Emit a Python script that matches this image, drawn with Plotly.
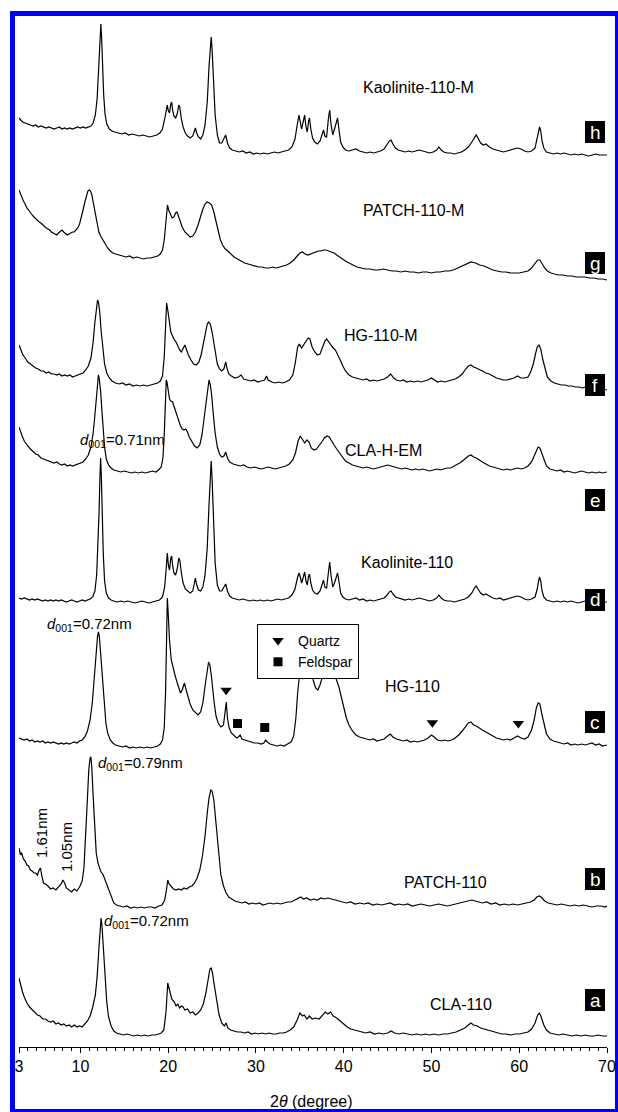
import numpy as np
import plotly.graph_objects as go

# ---------------- XRD patterns: (2theta in degree, intensity in a.u.) ----------------
cla110 = [(3.0, 59), (3.2, 51), (3.4, 45), (3.6, 40), (3.9, 34), (4.2, 30), (4.5, 27), (4.8, 25), (5.1, 22), (5.4, 21),
          (5.7, 18), (6.0, 18), (6.3, 16), (6.6, 15), (6.9, 16), (7.2, 13), (7.5, 14), (7.8, 12), (8.1, 13), (8.4, 11),
          (8.7, 12), (9.0, 10), (9.3, 12), (9.6, 10), (9.9, 11), (10.2, 10), (10.5, 13), (10.8, 16), (11.1, 21), (11.4, 30),
          (11.7, 42), (11.9, 60), (12.1, 88), (12.25, 110), (12.35, 119), (12.45, 112), (12.6, 90), (12.8, 58), (13.0, 35),
          (13.2, 20), (13.5, 11), (13.8, 6), (14.1, 4), (14.5, 3), (14.9, 2), (15.3, 3), (15.7, 2), (16.1, 1), (16.5, 2),
          (16.9, 1), (17.3, 2), (17.7, 1), (18.1, 2), (18.5, 2), (18.9, 3), (19.2, 4), (19.5, 7), (19.75, 25), (19.95, 54),
          (20.15, 46), (20.4, 38), (20.7, 35), (20.9, 31), (21.1, 33), (21.3, 29), (21.5, 31), (21.7, 30), (21.9, 27),
          (22.2, 28), (22.5, 24), (22.8, 25), (23.1, 22), (23.4, 24), (23.7, 27), (24.0, 33), (24.3, 44), (24.55, 60),
          (24.75, 68), (24.9, 69), (25.05, 64), (25.25, 52), (25.5, 36), (25.8, 22), (26.1, 14), (26.4, 11), (26.6, 14),
          (26.8, 9), (27.1, 7), (27.5, 6), (27.9, 5), (28.3, 5), (28.7, 4), (29.1, 5), (29.5, 3), (29.9, 4), (30.3, 3),
          (30.7, 4), (31.1, 3), (31.5, 4), (31.9, 3), (32.3, 3), (32.7, 4), (33.1, 4), (33.5, 5), (33.9, 7), (34.3, 10),
          (34.7, 17), (35.0, 24), (35.3, 21), (35.5, 22), (35.8, 18), (36.1, 21), (36.4, 18), (36.8, 19), (37.2, 18),
          (37.6, 22), (37.9, 25), (38.2, 23), (38.5, 25), (38.8, 21), (39.2, 19), (39.6, 16), (40.0, 13), (40.4, 10),
          (40.8, 8), (41.2, 7), (41.6, 6), (42.0, 5), (42.5, 4), (43.0, 5), (43.5, 3), (44.0, 4), (44.5, 3), (45.0, 4),
          (45.4, 6), (45.8, 4), (46.3, 3), (46.8, 4), (47.3, 3), (47.8, 2), (48.3, 3), (48.8, 2), (49.3, 3), (49.8, 2),
          (50.3, 3), (50.8, 2), (51.3, 3), (51.8, 3), (52.3, 4), (52.8, 5), (53.3, 7), (53.8, 9), (54.2, 12), (54.5, 14),
          (54.8, 12), (55.2, 11), (55.6, 9), (56.0, 8), (56.5, 6), (57.0, 5), (57.5, 4), (58.0, 3), (58.5, 3), (59.0, 2),
          (59.5, 3), (60.0, 3), (60.5, 4), (61.0, 5), (61.4, 8), (61.8, 14), (62.1, 22), (62.3, 24), (62.5, 20), (62.8, 12),
          (63.1, 7), (63.5, 4), (64.0, 3), (64.5, 2), (65.0, 3), (65.5, 2), (66.0, 1), (66.5, 2), (67.0, 1), (67.5, 2),
          (68.0, 1), (68.5, 1), (69.0, 2), (69.5, 1), (70.0, 1)]

patch110 = [(3.0, 60), (3.15, 54), (3.3, 55), (3.5, 49), (3.7, 47), (3.9, 43), (4.1, 42), (4.3, 38), (4.5, 37), (4.7, 35),
            (4.9, 35), (5.1, 33), (5.3, 38), (5.45, 40), (5.6, 32), (5.8, 25), (6.0, 24), (6.3, 22), (6.6, 19), (6.9, 20),
            (7.2, 18), (7.5, 21), (7.8, 24), (8.0, 28), (8.2, 25), (8.4, 20), (8.7, 18), (9.0, 16), (9.3, 19), (9.6, 17),
            (9.9, 21), (10.2, 27), (10.4, 40), (10.6, 70), (10.8, 110), (10.95, 138), (11.1, 150), (11.2, 151), (11.3, 140),
            (11.45, 112), (11.6, 80), (11.8, 55), (12.0, 45), (12.3, 37), (12.6, 33), (12.9, 26), (13.2, 19), (13.5, 10),
            (13.8, 5), (14.1, 3), (14.5, 2), (14.9, 1), (15.3, 2), (15.7, 0), (16.1, 1), (16.5, 0), (16.9, 1), (17.3, 0),
            (17.7, 1), (18.1, 1), (18.5, 0), (18.9, 2), (19.3, 3), (19.6, 8), (19.8, 18), (19.95, 28), (20.1, 24), (20.3, 22),
            (20.6, 19), (20.9, 18), (21.2, 19), (21.5, 18), (21.8, 20), (22.1, 19), (22.4, 21), (22.7, 22), (23.0, 25),
            (23.3, 30), (23.6, 38), (23.9, 52), (24.2, 72), (24.45, 95), (24.65, 110), (24.85, 118), (25.0, 117), (25.2, 108),
            (25.4, 90), (25.6, 68), (25.8, 48), (26.0, 33), (26.3, 22), (26.6, 15), (26.9, 11), (27.2, 9), (27.6, 7), (28.0, 6),
            (28.4, 5), (28.8, 6), (29.2, 4), (29.6, 5), (30.0, 4), (30.4, 5), (30.8, 3), (31.2, 4), (31.6, 5), (32.0, 4),
            (32.4, 5), (32.8, 4), (33.2, 5), (33.6, 6), (34.0, 6), (34.4, 8), (34.8, 10), (35.1, 11), (35.4, 9), (35.8, 10),
            (36.2, 8), (36.6, 9), (37.0, 8), (37.4, 10), (37.8, 9), (38.2, 10), (38.6, 9), (39.0, 8), (39.4, 7), (39.8, 6),
            (40.3, 5), (40.8, 6), (41.3, 4), (41.8, 5), (42.3, 4), (42.8, 5), (43.3, 3), (43.8, 4), (44.3, 3), (44.8, 4),
            (45.3, 5), (45.8, 3), (46.3, 4), (46.8, 3), (47.3, 4), (47.8, 2), (48.3, 3), (48.8, 4), (49.3, 3), (49.8, 2),
            (50.3, 3), (50.8, 4), (51.3, 3), (51.8, 2), (52.3, 3), (52.8, 4), (53.3, 5), (53.8, 6), (54.2, 7), (54.6, 8),
            (55.0, 7), (55.4, 6), (55.8, 5), (56.3, 6), (56.8, 4), (57.3, 5), (57.8, 3), (58.3, 4), (58.8, 3), (59.3, 4),
            (59.8, 3), (60.3, 4), (60.8, 5), (61.3, 6), (61.7, 8), (62.0, 11), (62.3, 12), (62.6, 10), (62.9, 7), (63.3, 5),
            (63.8, 4), (64.3, 3), (64.8, 4), (65.3, 3), (65.8, 2), (66.3, 3), (66.8, 2), (67.3, 3), (67.8, 2), (68.3, 1),
            (68.8, 2), (69.3, 2), (69.8, 1), (70.0, 2)]

hg110 = [(3.0, 10), (3.3, 9), (3.6, 8), (3.9, 9), (4.2, 7), (4.5, 8), (4.8, 6), (5.1, 7), (5.4, 6), (5.7, 7), (6.0, 5),
         (6.3, 6), (6.6, 5), (6.9, 6), (7.2, 5), (7.5, 4), (7.8, 5), (8.1, 4), (8.4, 5), (8.7, 4), (9.0, 5), (9.3, 6),
         (9.6, 5), (9.9, 7), (10.2, 8), (10.5, 11), (10.8, 17), (11.1, 28), (11.35, 45), (11.6, 73), (11.8, 98),
         (11.95, 112), (12.05, 116), (12.15, 112), (12.3, 95), (12.5, 68), (12.7, 42), (12.9, 25), (13.1, 15), (13.4, 8),
         (13.7, 5), (14.0, 3), (14.4, 2), (14.8, 1), (15.2, 2), (15.6, 0), (16.0, 1), (16.4, 0), (16.8, 1), (17.2, 0),
         (17.6, 1), (18.0, 0), (18.4, 1), (18.8, 2), (19.1, 4), (19.35, 8), (19.55, 20), (19.7, 55), (19.82, 110),
         (19.9, 150), (20.0, 135), (20.15, 108), (20.35, 88), (20.6, 78), (20.8, 72), (21.0, 66), (21.2, 60), (21.4, 55),
         (21.6, 58), (21.85, 65), (22.05, 58), (22.3, 50), (22.5, 44), (22.8, 38), (23.1, 35), (23.4, 33), (23.7, 36),
         (23.95, 45), (24.2, 62), (24.45, 80), (24.6, 86), (24.75, 83), (24.95, 70), (25.2, 48), (25.45, 32), (25.7, 25),
         (26.0, 21), (26.3, 23), (26.5, 38), (26.62, 46), (26.75, 30), (26.95, 20), (27.2, 15), (27.5, 12), (27.8, 10),
         (28.0, 11), (28.2, 13), (28.4, 9), (28.7, 8), (29.0, 7), (29.4, 6), (29.8, 5), (30.2, 5), (30.6, 4), (30.9, 5),
         (31.1, 8), (31.3, 6), (31.6, 4), (32.0, 3), (32.4, 2), (32.8, 3), (33.2, 2), (33.6, 4), (34.0, 6), (34.3, 12),
         (34.55, 30), (34.75, 55), (34.95, 72), (35.15, 74), (35.35, 69), (35.55, 73), (35.75, 78), (35.95, 84), (36.1, 86),
         (36.3, 78), (36.55, 67), (36.8, 60), (37.05, 58), (37.3, 63), (37.55, 70), (37.8, 79), (38.0, 84), (38.2, 82),
         (38.45, 76), (38.7, 72), (38.95, 74), (39.2, 68), (39.45, 61), (39.7, 52), (40.0, 40), (40.3, 30), (40.6, 23),
         (41.0, 17), (41.4, 13), (41.8, 11), (42.2, 10), (42.6, 9), (43.0, 8), (43.4, 9), (43.8, 7), (44.2, 8), (44.6, 9),
         (45.0, 12), (45.3, 14), (45.6, 11), (46.0, 9), (46.4, 8), (46.8, 7), (47.2, 8), (47.6, 6), (48.0, 7), (48.4, 6),
         (48.8, 7), (49.2, 8), (49.6, 10), (50.0, 13), (50.3, 11), (50.7, 8), (51.1, 7), (51.5, 8), (51.9, 7), (52.3, 8),
         (52.7, 10), (53.1, 13), (53.5, 17), (53.9, 22), (54.2, 25), (54.5, 26), (54.8, 23), (55.1, 22), (55.4, 20),
         (55.8, 18), (56.2, 16), (56.6, 14), (57.0, 12), (57.4, 10), (57.8, 9), (58.2, 8), (58.6, 9), (59.0, 8), (59.4, 10),
         (59.8, 12), (60.2, 10), (60.6, 9), (61.0, 11), (61.4, 18), (61.7, 28), (61.95, 40), (62.15, 45), (62.35, 44),
         (62.6, 33), (62.85, 22), (63.1, 14), (63.5, 9), (63.9, 7), (64.3, 6), (64.7, 5), (65.1, 4), (65.5, 5), (65.9, 3),
         (66.3, 4), (66.7, 3), (67.1, 4), (67.5, 3), (67.9, 4), (68.3, 5), (68.7, 3), (69.1, 4), (69.5, 2), (70.0, 3)]

kao110 = [(3.0, 5), (3.3, 4), (3.6, 5), (3.9, 4), (4.2, 3), (4.5, 4), (4.8, 3), (5.1, 4), (5.4, 3), (5.7, 2), (6.0, 3),
          (6.3, 2), (6.6, 3), (6.9, 2), (7.2, 3), (7.5, 2), (7.8, 3), (8.1, 2), (8.4, 1), (8.7, 2), (9.0, 3), (9.3, 2),
          (9.6, 1), (9.9, 2), (10.2, 3), (10.5, 2), (10.8, 3), (11.1, 4), (11.4, 6), (11.65, 12), (11.85, 28), (12.0, 55),
          (12.12, 90), (12.22, 125), (12.3, 145), (12.38, 128), (12.48, 90), (12.6, 50), (12.75, 22), (12.95, 10), (13.2, 5),
          (13.5, 3), (13.8, 2), (14.2, 1), (14.6, 2), (15.0, 1), (15.4, 2), (15.8, 1), (16.2, 0), (16.6, 1), (17.0, 2),
          (17.4, 1), (17.8, 0), (18.2, 1), (18.6, 2), (19.0, 3), (19.35, 6), (19.6, 16), (19.78, 35), (19.9, 50), (20.02, 38),
          (20.15, 33), (20.3, 45), (20.4, 47), (20.5, 38), (20.65, 30), (20.85, 28), (21.05, 35), (21.2, 45), (21.32, 43),
          (21.5, 30), (21.7, 20), (21.95, 14), (22.2, 12), (22.5, 10), (22.8, 12), (22.95, 18), (23.1, 25), (23.25, 18),
          (23.45, 13), (23.7, 12), (23.95, 16), (24.2, 28), (24.45, 55), (24.65, 98), (24.8, 132), (24.9, 142), (25.0, 125),
          (25.15, 85), (25.35, 40), (25.6, 18), (25.85, 12), (26.1, 12), (26.35, 16), (26.55, 19), (26.75, 12), (27.0, 7),
          (27.3, 5), (27.7, 4), (28.1, 3), (28.5, 4), (28.9, 3), (29.3, 2), (29.7, 3), (30.1, 2), (30.5, 3), (30.9, 2),
          (31.3, 3), (31.7, 2), (32.1, 3), (32.5, 4), (32.9, 3), (33.3, 4), (33.7, 5), (34.1, 8), (34.45, 14), (34.7, 24),
          (34.9, 30), (35.05, 26), (35.2, 20), (35.4, 26), (35.55, 31), (35.7, 22), (35.85, 18), (36.0, 27), (36.1, 29),
          (36.25, 20), (36.45, 13), (36.7, 10), (37.0, 9), (37.3, 12), (37.55, 18), (37.7, 23), (37.85, 16), (38.05, 15),
          (38.25, 30), (38.4, 41), (38.55, 28), (38.75, 16), (38.95, 20), (39.15, 27), (39.3, 30), (39.45, 22), (39.65, 10),
          (39.9, 6), (40.2, 4), (40.6, 3), (41.0, 4), (41.4, 5), (41.8, 3), (42.2, 4), (42.6, 2), (43.0, 3), (43.4, 2),
          (43.8, 3), (44.2, 4), (44.6, 5), (44.95, 8), (45.2, 11), (45.4, 12), (45.6, 9), (45.9, 6), (46.2, 5), (46.6, 4),
          (47.0, 3), (47.4, 4), (47.8, 3), (48.2, 4), (48.6, 5), (49.0, 4), (49.4, 3), (49.8, 2), (50.2, 3), (50.6, 5),
          (50.85, 8), (51.1, 5), (51.4, 3), (51.8, 2), (52.2, 2), (52.6, 1), (53.0, 2), (53.4, 3), (53.8, 4), (54.2, 6),
          (54.6, 10), (54.9, 15), (55.1, 17), (55.3, 14), (55.6, 10), (55.9, 8), (56.2, 9), (56.6, 7), (57.0, 5), (57.4, 4),
          (57.8, 5), (58.2, 3), (58.6, 4), (59.0, 5), (59.4, 6), (59.8, 7), (60.2, 6), (60.6, 4), (61.0, 3), (61.4, 4),
          (61.8, 6), (62.05, 14), (62.2, 22), (62.32, 26), (62.45, 22), (62.6, 12), (62.8, 6), (63.1, 3), (63.5, 2),
          (63.9, 1), (64.3, 2), (64.7, 1), (65.1, 2), (65.5, 1), (65.9, 2), (66.3, 1), (66.7, 0), (67.1, 1), (67.5, 2),
          (67.9, 1), (68.3, 0), (68.7, 1), (69.1, 2), (69.5, 1), (70.0, 1)]

clahem = [(3.0, 46), (3.2, 40), (3.4, 36), (3.6, 32), (3.8, 29), (4.0, 27), (4.3, 24), (4.6, 21), (4.9, 19), (5.2, 18),
          (5.5, 15), (5.8, 14), (6.1, 13), (6.4, 12), (6.7, 11), (7.0, 10), (7.3, 11), (7.6, 9), (7.9, 8), (8.2, 9), (8.5, 7),
          (8.8, 8), (9.1, 7), (9.4, 8), (9.7, 9), (10.0, 10), (10.3, 11), (10.6, 14), (10.9, 18), (11.2, 26), (11.45, 40),
          (11.65, 58), (11.82, 78), (11.95, 92), (12.05, 98), (12.15, 94), (12.3, 82), (12.45, 62), (12.6, 42), (12.75, 26),
          (12.95, 14), (13.2, 8), (13.5, 5), (13.8, 3), (14.2, 2), (14.6, 1), (15.0, 2), (15.4, 1), (15.8, 0), (16.2, 1),
          (16.6, 0), (17.0, 1), (17.4, 0), (17.8, 1), (18.2, 2), (18.6, 1), (18.9, 3), (19.2, 6), (19.4, 15), (19.55, 38),
          (19.68, 70), (19.78, 93), (19.88, 90), (20.0, 80), (20.15, 74), (20.3, 72), (20.5, 71), (20.65, 67), (20.8, 63),
          (21.0, 57), (21.2, 50), (21.4, 47), (21.6, 44), (21.8, 43), (22.0, 44), (22.2, 41), (22.4, 36), (22.7, 31),
          (23.0, 27), (23.3, 25), (23.6, 28), (23.85, 38), (24.1, 55), (24.3, 70), (24.5, 85), (24.65, 93), (24.8, 88),
          (24.95, 78), (25.15, 58), (25.35, 40), (25.6, 26), (25.85, 19), (26.1, 16), (26.35, 17), (26.55, 21), (26.75, 15),
          (27.0, 11), (27.4, 9), (27.8, 8), (28.2, 7), (28.6, 8), (29.0, 6), (29.4, 5), (29.8, 6), (30.2, 5), (30.6, 4),
          (31.0, 5), (31.4, 6), (31.8, 5), (32.2, 4), (32.6, 5), (33.0, 6), (33.4, 7), (33.8, 9), (34.2, 13), (34.5, 20),
          (34.8, 32), (35.05, 37), (35.3, 34), (35.55, 30), (35.8, 33), (36.05, 31), (36.3, 25), (36.6, 23), (36.9, 24),
          (37.2, 27), (37.5, 31), (37.8, 35), (38.1, 37), (38.35, 36), (38.6, 32), (38.9, 28), (39.2, 24), (39.5, 20),
          (39.8, 16), (40.2, 12), (40.6, 10), (41.0, 8), (41.4, 7), (41.8, 6), (42.2, 5), (42.6, 6), (43.0, 5), (43.4, 4),
          (43.8, 5), (44.2, 6), (44.6, 7), (45.0, 8), (45.4, 7), (45.8, 6), (46.2, 5), (46.6, 4), (47.0, 5), (47.4, 4),
          (47.8, 3), (48.2, 4), (48.6, 3), (49.0, 4), (49.4, 3), (49.8, 2), (50.2, 3), (50.6, 4), (51.0, 3), (51.4, 4),
          (51.8, 5), (52.2, 5), (52.6, 7), (53.0, 9), (53.4, 11), (53.8, 14), (54.2, 17), (54.5, 18), (54.8, 16), (55.1, 15),
          (55.4, 13), (55.8, 11), (56.2, 9), (56.6, 7), (57.0, 6), (57.4, 5), (57.8, 4), (58.2, 3), (58.6, 4), (59.0, 3),
          (59.4, 4), (59.8, 5), (60.2, 4), (60.6, 5), (61.0, 7), (61.4, 11), (61.7, 17), (61.95, 23), (62.15, 26),
          (62.35, 25), (62.6, 19), (62.85, 12), (63.1, 7), (63.5, 4), (63.9, 3), (64.3, 2), (64.7, 3), (65.1, 1), (65.5, 2),
          (65.9, 1), (66.3, 0), (66.7, 1), (67.1, 2), (67.5, 1), (67.9, 0), (68.3, 1), (68.7, 0), (69.1, 1), (69.5, 0),
          (70.0, 1)]

hg110m = [(3.0, 47), (3.2, 42), (3.4, 38), (3.7, 34), (4.0, 30), (4.3, 28), (4.6, 26), (4.9, 24), (5.2, 23), (5.5, 21),
          (5.8, 21), (6.1, 19), (6.4, 20), (6.7, 18), (7.0, 18), (7.3, 17), (7.6, 18), (7.9, 16), (8.2, 17), (8.5, 16),
          (8.8, 17), (9.1, 15), (9.4, 16), (9.7, 17), (10.0, 18), (10.3, 19), (10.6, 22), (10.9, 26), (11.2, 34),
          (11.45, 50), (11.65, 70), (11.82, 86), (11.95, 92), (12.05, 90), (12.2, 80), (12.35, 62), (12.55, 42), (12.75, 28),
          (13.0, 19), (13.3, 14), (13.6, 11), (14.0, 9), (14.4, 8), (14.8, 9), (15.2, 7), (15.6, 8), (16.0, 6), (16.4, 7),
          (16.8, 6), (17.2, 7), (17.6, 6), (18.0, 7), (18.4, 8), (18.8, 9), (19.1, 11), (19.35, 16), (19.55, 35), (19.7, 65),
          (19.82, 89), (19.95, 82), (20.1, 72), (20.3, 60), (20.5, 56), (20.7, 52), (20.9, 50), (21.1, 46), (21.3, 42),
          (21.5, 40), (21.7, 43), (21.9, 47), (22.1, 42), (22.3, 37), (22.6, 32), (22.9, 28), (23.2, 27), (23.5, 30),
          (23.75, 37), (24.0, 47), (24.25, 60), (24.45, 68), (24.6, 70), (24.8, 68), (25.0, 60), (25.2, 48), (25.4, 37),
          (25.6, 28), (25.85, 23), (26.1, 21), (26.35, 23), (26.55, 30), (26.7, 24), (26.9, 18), (27.2, 16), (27.6, 14),
          (28.0, 15), (28.3, 17), (28.6, 13), (29.0, 12), (29.4, 11), (29.8, 12), (30.2, 10), (30.6, 11), (31.0, 12),
          (31.2, 16), (31.4, 12), (31.8, 10), (32.2, 9), (32.6, 10), (33.0, 9), (33.4, 10), (33.8, 12), (34.2, 17), (34.5, 30),
          (34.75, 45), (34.95, 48), (35.2, 44), (35.45, 47), (35.7, 51), (35.95, 54), (36.15, 53), (36.4, 45), (36.7, 40),
          (37.0, 37), (37.3, 38), (37.6, 45), (37.85, 51), (38.05, 53), (38.3, 50), (38.55, 46), (38.8, 44), (39.05, 42),
          (39.3, 38), (39.6, 32), (39.9, 26), (40.2, 21), (40.6, 17), (41.0, 15), (41.4, 14), (41.8, 13), (42.2, 12),
          (42.6, 13), (43.0, 11), (43.4, 12), (43.8, 11), (44.2, 12), (44.6, 13), (45.0, 15), (45.35, 18), (45.7, 14),
          (46.0, 12), (46.4, 11), (46.8, 12), (47.2, 10), (47.6, 11), (48.0, 10), (48.4, 11), (48.8, 10), (49.2, 11),
          (49.6, 12), (50.0, 14), (50.3, 12), (50.7, 10), (51.1, 11), (51.5, 10), (51.9, 11), (52.3, 12), (52.7, 13),
          (53.1, 15), (53.5, 18), (53.9, 23), (54.2, 26), (54.5, 27), (54.8, 25), (55.1, 24), (55.4, 23), (55.8, 21),
          (56.2, 19), (56.6, 18), (57.0, 16), (57.4, 14), (57.8, 13), (58.2, 12), (58.6, 12), (59.0, 13), (59.4, 14),
          (59.8, 16), (60.2, 14), (60.6, 14), (61.0, 15), (61.3, 20), (61.6, 28), (61.85, 38), (62.05, 45), (62.25, 47),
          (62.45, 43), (62.7, 32), (62.95, 22), (63.2, 15), (63.6, 11), (64.0, 9), (64.4, 8), (64.8, 7), (65.2, 7), (65.6, 6),
          (66.0, 6), (66.4, 5), (66.8, 5), (67.2, 4), (67.6, 5), (68.0, 3), (68.4, 4), (68.8, 3), (69.2, 2), (69.6, 3),
          (70.0, 2)]

patch110m = [(3.0, 90), (3.15, 86), (3.3, 83), (3.5, 79), (3.7, 76), (3.9, 72), (4.1, 70), (4.3, 67), (4.5, 65), (4.7, 63),
             (4.9, 61), (5.1, 60), (5.3, 58), (5.5, 57), (5.7, 55), (5.9, 54), (6.1, 52), (6.3, 51), (6.5, 50), (6.7, 48),
             (6.9, 47), (7.1, 46), (7.3, 45), (7.5, 47), (7.7, 49), (7.9, 50), (8.1, 48), (8.3, 46), (8.5, 45), (8.7, 46),
             (8.9, 47), (9.1, 48), (9.3, 48), (9.5, 50), (9.7, 52), (9.9, 56), (10.1, 62), (10.3, 70), (10.5, 78), (10.7, 85),
             (10.85, 89), (11.0, 90), (11.15, 89), (11.3, 85), (11.5, 76), (11.7, 65), (11.9, 56), (12.1, 48), (12.3, 44),
             (12.5, 41), (12.8, 36), (13.1, 32), (13.4, 29), (13.7, 27), (14.0, 26), (14.4, 25), (14.8, 24), (15.2, 23),
             (15.6, 24), (16.0, 22), (16.4, 23), (16.8, 22), (17.2, 21), (17.6, 22), (18.0, 22), (18.4, 23), (18.8, 24),
             (19.1, 26), (19.35, 30), (19.55, 40), (19.7, 55), (19.82, 70), (19.92, 75), (20.05, 70), (20.25, 65), (20.45, 62),
             (20.65, 63), (20.85, 67), (21.0, 68), (21.15, 64), (21.35, 58), (21.6, 53), (21.9, 48), (22.2, 45), (22.5, 43),
             (22.8, 44), (23.1, 48), (23.4, 55), (23.7, 64), (23.95, 71), (24.2, 76), (24.45, 78), (24.7, 77), (24.95, 75),
             (25.2, 68), (25.45, 58), (25.7, 48), (25.95, 40), (26.2, 35), (26.5, 31), (26.8, 29), (27.1, 26), (27.5, 23),
             (27.9, 21), (28.3, 19), (28.7, 17), (29.1, 16), (29.5, 15), (29.9, 14), (30.3, 13), (30.7, 13), (31.1, 12),
             (31.5, 12), (31.9, 13), (32.3, 12), (32.7, 13), (33.1, 14), (33.5, 15), (33.9, 17), (34.3, 20), (34.7, 24),
             (35.0, 27), (35.3, 28), (35.6, 26), (35.9, 25), (36.2, 26), (36.5, 27), (36.8, 28), (37.1, 29), (37.4, 29),
             (37.7, 30), (38.0, 30), (38.3, 29), (38.6, 28), (38.9, 27), (39.2, 25), (39.5, 23), (39.8, 21), (40.2, 19),
             (40.6, 17), (41.0, 15), (41.5, 13), (42.0, 12), (42.5, 11), (43.0, 11), (43.5, 10), (44.0, 10), (44.5, 11),
             (45.0, 10), (45.5, 9), (46.0, 9), (46.5, 8), (47.0, 9), (47.5, 8), (48.0, 8), (48.5, 7), (49.0, 8), (49.5, 8),
             (50.0, 7), (50.5, 8), (51.0, 8), (51.5, 9), (52.0, 9), (52.5, 10), (53.0, 12), (53.5, 14), (54.0, 16), (54.5, 18),
             (55.0, 17), (55.5, 15), (56.0, 14), (56.5, 12), (57.0, 10), (57.5, 9), (58.0, 8), (58.5, 8), (59.0, 7), (59.5, 7),
             (60.0, 7), (60.5, 8), (61.0, 9), (61.4, 12), (61.8, 17), (62.1, 20), (62.35, 20), (62.6, 16), (62.9, 12),
             (63.2, 9), (63.6, 7), (64.0, 6), (64.5, 5), (65.0, 5), (65.5, 4), (66.0, 4), (66.5, 3), (67.0, 3), (67.5, 3),
             (68.0, 2), (68.5, 2), (69.0, 1), (69.5, 1), (70.0, 0)]

kao110m = [(3.0, 39), (3.2, 37), (3.4, 35), (3.7, 34), (4.0, 33), (4.3, 32), (4.6, 31), (4.9, 32), (5.2, 30), (5.5, 31),
           (5.8, 30), (6.1, 29), (6.4, 30), (6.7, 29), (7.0, 28), (7.3, 29), (7.6, 30), (7.9, 28), (8.2, 29), (8.5, 28),
           (8.8, 29), (9.1, 28), (9.4, 29), (9.7, 30), (10.0, 29), (10.3, 30), (10.6, 29), (10.9, 30), (11.2, 31),
           (11.45, 34), (11.7, 42), (11.9, 58), (12.05, 82), (12.17, 110), (12.27, 130), (12.33, 133), (12.42, 118),
           (12.52, 90), (12.65, 62), (12.8, 43), (13.0, 33), (13.3, 28), (13.6, 26), (13.9, 25), (14.3, 24), (14.7, 23),
           (15.1, 24), (15.5, 22), (15.9, 23), (16.3, 22), (16.7, 21), (17.1, 22), (17.5, 21), (17.9, 20), (18.3, 21),
           (18.7, 22), (19.05, 24), (19.35, 28), (19.6, 38), (19.78, 48), (19.9, 52), (20.02, 46), (20.15, 44), (20.3, 53),
           (20.4, 55), (20.5, 47), (20.65, 41), (20.85, 39), (21.05, 44), (21.2, 52), (21.32, 50), (21.5, 38), (21.7, 30),
           (21.95, 24), (22.2, 21), (22.5, 19), (22.8, 21), (22.95, 25), (23.1, 29), (23.25, 24), (23.45, 20), (23.7, 18),
           (23.95, 22), (24.2, 32), (24.45, 55), (24.65, 90), (24.8, 113), (24.9, 120), (25.0, 108), (25.15, 78), (25.35, 42),
           (25.6, 22), (25.85, 14), (26.1, 14), (26.35, 18), (26.55, 22), (26.75, 14), (27.0, 9), (27.3, 7), (27.7, 6),
           (28.1, 5), (28.5, 6), (28.9, 4), (29.3, 5), (29.7, 3), (30.1, 4), (30.5, 3), (30.9, 4), (31.3, 3), (31.7, 4),
           (32.1, 5), (32.5, 4), (32.9, 5), (33.3, 6), (33.7, 7), (34.1, 10), (34.45, 18), (34.7, 32), (34.9, 42), (35.05, 35),
           (35.2, 28), (35.4, 36), (35.55, 42), (35.7, 30), (35.85, 25), (36.0, 36), (36.1, 39), (36.25, 28), (36.45, 19),
           (36.7, 15), (37.0, 13), (37.3, 16), (37.55, 23), (37.7, 27), (37.85, 21), (38.05, 20), (38.25, 38), (38.4, 47),
           (38.55, 33), (38.75, 22), (38.95, 28), (39.15, 36), (39.3, 39), (39.45, 28), (39.65, 15), (39.9, 10), (40.2, 7),
           (40.6, 6), (41.0, 7), (41.4, 8), (41.8, 6), (42.2, 5), (42.6, 4), (43.0, 5), (43.4, 4), (43.8, 5), (44.2, 6),
           (44.6, 8), (44.95, 12), (45.2, 16), (45.4, 17), (45.6, 13), (45.9, 9), (46.2, 7), (46.6, 6), (47.0, 5), (47.4, 6),
           (47.8, 5), (48.2, 6), (48.6, 7), (49.0, 6), (49.4, 5), (49.8, 4), (50.2, 5), (50.6, 7), (50.85, 10), (51.1, 7),
           (51.4, 5), (51.8, 4), (52.2, 4), (52.6, 3), (53.0, 4), (53.4, 5), (53.8, 7), (54.2, 10), (54.6, 15), (54.9, 20),
           (55.1, 22), (55.3, 19), (55.6, 14), (55.9, 12), (56.2, 13), (56.6, 10), (57.0, 8), (57.4, 7), (57.8, 6), (58.2, 5),
           (58.6, 6), (59.0, 7), (59.4, 8), (59.8, 9), (60.2, 8), (60.6, 6), (61.0, 5), (61.4, 6), (61.8, 9), (62.05, 18),
           (62.2, 26), (62.32, 30), (62.45, 26), (62.6, 16), (62.8, 9), (63.1, 5), (63.5, 4), (63.9, 3), (64.3, 4), (64.7, 3),
           (65.1, 4), (65.5, 3), (65.9, 2), (66.3, 3), (66.7, 2), (67.1, 3), (67.5, 2), (67.9, 1), (68.3, 2), (68.7, 3),
           (69.1, 2), (69.5, 2), (70.0, 2)]

# sample names and panel letters, bottom to top
sample_names = ["CLA-110", "PATCH-110", "HG-110", "Kaolinite-110",
                "CLA-H-EM", "HG-110-M", "PATCH-110-M", "Kaolinite-110-M"]
panel_letters = ["a", "b", "c", "d", "e", "f", "g", "h"]
patterns = [cla110, patch110, hg110, kao110, clahem, hg110m, patch110m, kao110m]

# phase reflections marked on the HG-110 pattern
quartz_tt = [26.6, 36.1, 39.4, 50.1, 59.9]
feldspar_tt = [27.9, 31.0]

# x-axis ticks
tick_vals = [3, 10, 20, 30, 40, 50, 60, 70]
tick_text = ["3", "10", "20", "30", "40", "50", "60", "70"]

# ---------------- layout geometry (pixels) ----------------
W, H = 618, 1112
L, R, T, B = 19, 607, 16, 1047
offsets = [10, 139, 299, 444, 574, 655, 767, 890]   # vertical stacking of the patterns

FONT = "Liberation Sans, Arial, Helvetica, sans-serif"


def px(xp):
    return (xp - L) / (R - L)


def py(yp):
    return (B - yp) / (B - T)


def split(pat):
    arr = np.asarray(pat, float)
    return arr[:, 0], arr[:, 1]


fig = go.Figure()
for pat, off in zip(patterns, offsets):
    tt, inten = split(pat)
    fig.add_trace(go.Scatter(x=tt, y=inten + off, mode="lines",
                             line=dict(color="black", width=1.2), showlegend=False,
                             hoverinfo="skip"))

# phase markers above the HG-110 reflections
hg_tt, hg_i = split(hg110)
hg_off = offsets[2]
q_y = [np.interp(t, hg_tt, hg_i) + hg_off + 13 for t in quartz_tt]
f_y = [np.interp(t, hg_tt, hg_i) + hg_off + 14 for t in feldspar_tt]
fig.add_trace(go.Scatter(x=quartz_tt, y=q_y, mode="markers", name="Quartz",
                         marker=dict(symbol="triangle-down", size=10, color="black")))
fig.add_trace(go.Scatter(x=feldspar_tt, y=f_y, mode="markers", name="Feldspar",
                         marker=dict(symbol="square", size=9, color="black")))

ann = []
shapes = []
# sample names
name_pos = [(461, 1004), (445, 882), (412, 687), (407, 562), (383, 450), (381, 335), (413, 210), (418, 87)]
for name, (xp, yp) in zip(sample_names, name_pos):
    ann.append(dict(x=px(xp), y=py(yp), xref="paper", yref="paper", text=name, showarrow=False,
                    font=dict(family=FONT, size=16, color="black"), xanchor="center", yanchor="middle"))
# panel letters: white letter on a black square
letter_y = [1000, 879, 722, 600, 500, 385, 263, 132]
for let, yp in zip(panel_letters, letter_y):
    shapes.append(dict(type="rect", xref="paper", yref="paper",
                       x0=px(585), x1=px(605), y0=py(yp + 11), y1=py(yp - 11),
                       fillcolor="black", line=dict(width=0), layer="above"))
    ann.append(dict(x=px(595), y=py(yp), xref="paper", yref="paper", text=let, showarrow=False,
                    font=dict(family=FONT, size=19, color="white"),
                    xanchor="center", yanchor="middle"))
# basal spacing labels
d_labels = [("0.72nm", 102, 921), ("0.79nm", 96, 763), ("0.72nm", 45, 624), ("0.71nm", 78, 440)]
for val, xp, yp in d_labels:
    ann.append(dict(x=px(xp), y=py(yp), xref="paper", yref="paper",
                    text="<i>d</i><sub>001</sub>=" + val, showarrow=False,
                    font=dict(family=FONT, size=15, color="black"), xanchor="left", yanchor="middle"))
# low-angle reflections of PATCH-110
for txt, xp, yp in [("1.61nm", 41, 833), ("1.05nm", 66, 847)]:
    ann.append(dict(x=px(xp), y=py(yp), xref="paper", yref="paper", text=txt, showarrow=False,
                    textangle=-90, font=dict(family=FONT, size=15, color="black"),
                    xanchor="center", yanchor="middle"))
# axis title
ann.append(dict(x=px(311), y=py(1101), xref="paper", yref="paper", text="2<i>θ</i> (degree)",
                showarrow=False, font=dict(family=FONT, size=16, color="black"),
                xanchor="center", yanchor="middle"))

# blue frame around the figure
shapes.append(dict(type="rect", xref="paper", yref="paper",
                   x0=px(12.5), x1=px(617.5), y0=py(1111.5), y1=py(13.5),
                   line=dict(color="#0000ff", width=5), layer="above"))

fig.update_layout(
    width=W, height=H,
    margin=dict(l=L, r=W - R, t=T, b=H - B, autoexpand=False),
    paper_bgcolor="white", plot_bgcolor="white",
    annotations=ann,
    showlegend=True,
    legend=dict(x=px(257), y=py(624), xanchor="left", yanchor="top",
                bordercolor="black", borderwidth=1, bgcolor="white",
                font=dict(family=FONT, size=14, color="black"),
                itemwidth=30, tracegroupgap=0),
    shapes=shapes,
)
fig.update_xaxes(range=[3, 70], showline=True, linecolor="black", linewidth=1.2,
                 ticks="outside", ticklen=5, tickwidth=1, tickcolor="black",
                 tickvals=tick_vals, ticktext=tick_text,
                 tickfont=dict(family=FONT, size=16, color="black"),
                 minor=dict(ticks="outside", ticklen=3, dtick=1, tick0=0, tickcolor="black"),
                 showgrid=False, zeroline=False, fixedrange=True)
fig.update_yaxes(range=[0, B - T], visible=False, fixedrange=True)

fig.write_html("out.html")
